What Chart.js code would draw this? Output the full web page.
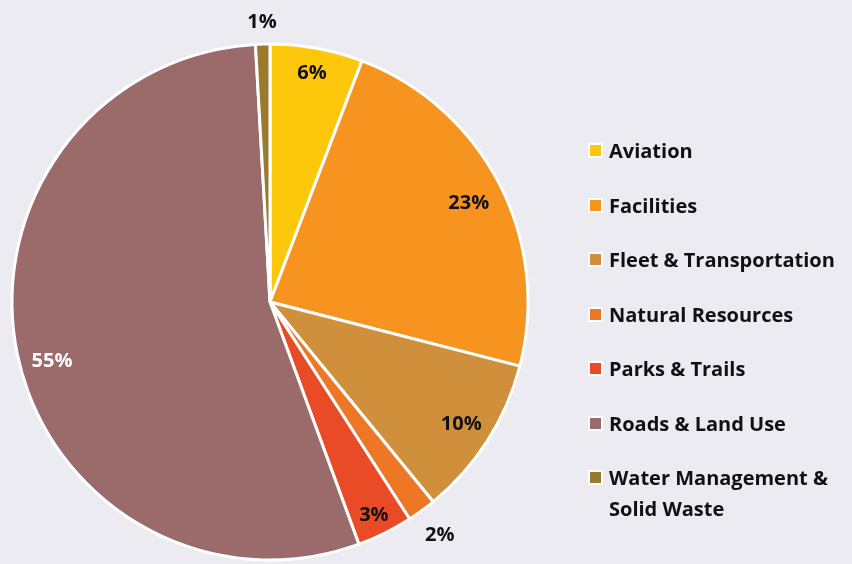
<!DOCTYPE html>
<html>
<head>
<meta charset="utf-8">
<script src="https://cdn.jsdelivr.net/npm/chart.js@4.4.0/dist/chart.umd.min.js"></script>
<style>
  html, body { margin: 0; padding: 0; background: #ECEBF2; }
  #wrap { position: relative; width: 852px; height: 564px; overflow: hidden; }
  #chart { position: absolute; left: 0; top: 0; }
  #legend { position: absolute; left: 588px; top: 0; font-family: "Open Sans", "Noto Sans", sans-serif; font-weight: 700; font-size: 20px; color: #111; }
  .item { position: absolute; left: 0; width: 264px; }
  .swatch { position: absolute; left: 0; width: 11px; height: 11px; border: 2px solid #fff; }
  .txt { position: absolute; left: 21px; width: 242px; line-height: 31px; white-space: normal; }
</style>
</head>
<body>
<div id="wrap">
  <canvas id="chart" width="852" height="564"></canvas>
  <div id="legend"></div>
</div>
<script>
  // Chart data (slice sizes estimated from the angles)
  const categories = [
    'Aviation',
    'Facilities',
    'Fleet & Transportation',
    'Natural Resources',
    'Parks & Trails',
    'Roads & Land Use',
    'Water Management & Solid Waste'
  ];
  const shares = [5.8, 23.2, 10.1, 1.8, 3.5, 54.7, 0.9];
  const labels = ['6%', '23%', '10%', '2%', '3%', '55%', '1%'];

  const COLORS = ['#FDC80C', '#F7941F', '#D0903B', '#EE7726', '#E84B26', '#9A6B6A', '#9A7A2D'];

  // label placement: fraction of the pie radius, angle nudge in degrees, text colour
  const LABEL_RADIUS = [0.9, 0.86, 0.88, 1.12, 0.92, 0.875, 1.085];
  const LABEL_NUDGE = [0, 1, 0, 0, 0.5, -3.4, 0];
  const LABEL_COLOR = ['#111', '#111', '#111', '#111', '#111', '#fff', '#111'];

  const sliceLabels = {
    id: 'sliceLabels',
    afterDatasetsDraw(chart) {
      const { ctx } = chart;
      const meta = chart.getDatasetMeta(0);
      ctx.save();
      ctx.font = '700 20px "Open Sans", "Noto Sans", sans-serif';
      ctx.textAlign = 'center';
      ctx.textBaseline = 'middle';
      meta.data.forEach((arc, i) => {
        const mid = (arc.startAngle + arc.endAngle) / 2 + LABEL_NUDGE[i] * Math.PI / 180;
        const r = arc.outerRadius * LABEL_RADIUS[i];
        ctx.fillStyle = LABEL_COLOR[i];
        ctx.fillText(labels[i], arc.x + Math.cos(mid) * r, arc.y + Math.sin(mid) * r);
      });
      ctx.restore();
    }
  };

  new Chart(document.getElementById('chart'), {
    type: 'pie',
    data: {
      labels: categories,
      datasets: [{
        data: shares,
        backgroundColor: COLORS,
        borderColor: '#ffffff',
        borderWidth: 3
      }]
    },
    options: {
      responsive: false,
      animation: false,
      radius: 258,
      layout: { padding: { left: 10, right: 322, top: 42, bottom: 2 } },
      plugins: {
        legend: { display: false },
        tooltip: { enabled: false }
      }
    },
    plugins: [sliceLabels]
  });

  // HTML legend built from the same arrays
  const legend = document.getElementById('legend');
  categories.forEach((name, i) => {
    const item = document.createElement('div');
    item.className = 'item';
    item.style.top = (135 + i * 54.5) + 'px';
    const sw = document.createElement('div');
    sw.className = 'swatch';
    sw.style.background = COLORS[i];
    sw.style.top = '8px';
    const txt = document.createElement('div');
    txt.className = 'txt';
    txt.textContent = name;
    item.appendChild(sw);
    item.appendChild(txt);
    legend.appendChild(item);
  });
</script>
</body>
</html>
